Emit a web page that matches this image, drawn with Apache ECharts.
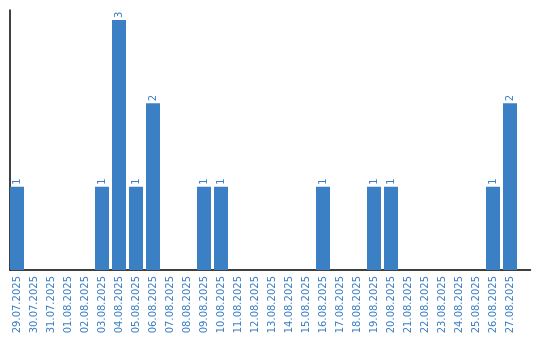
<!DOCTYPE html>
<html><head><meta charset="utf-8">
<script src="https://cdn.jsdelivr.net/npm/echarts@6/dist/echarts.min.js"></script>
<style>html,body{margin:0;padding:0;background:#fff}#c{width:540px;height:340px}</style>
</head><body><div id="c"></div>
<script>
const categories = ["29.07.2025","30.07.2025","31.07.2025","01.08.2025","02.08.2025","03.08.2025","04.08.2025","05.08.2025","06.08.2025","07.08.2025","08.08.2025","09.08.2025","10.08.2025","11.08.2025","12.08.2025","13.08.2025","14.08.2025","15.08.2025","16.08.2025","17.08.2025","18.08.2025","19.08.2025","20.08.2025","21.08.2025","22.08.2025","23.08.2025","24.08.2025","25.08.2025","26.08.2025","27.08.2025"];
const values = [1,0,0,0,0,1,3,1,2,0,0,1,1,0,0,0,0,0,1,0,0,1,1,0,0,0,0,0,1,2];
const blue = '#3b7fc4';
const chart = echarts.init(document.getElementById('c'), null, {renderer:'canvas'});
chart.setOption({
  animation:false,
  grid:[
    {left:10, right:9.5, top:10, bottom:70},
    {left:8.5, right:21.5, top:10, bottom:70}
  ],
  xAxis:[
    {type:'category', gridIndex:0, data:categories, axisLine:{lineStyle:{color:'#000', width:1.5}},
      axisTick:{show:false}, axisLabel:{show:false}, splitLine:{show:false}},
    {type:'category', gridIndex:1, data:categories, boundaryGap:true,
      axisLine:{show:false}, axisTick:{show:false},
      axisLabel:{rotate:90, color:blue, fontFamily:'DejaVu Sans', fontSize:10, margin:6, interval:0}}
  ],
  yAxis:[
    {type:'value', gridIndex:0, min:0, max:3.12, axisLine:{show:true, lineStyle:{color:'#000', width:1.5}},
      axisTick:{show:false}, axisLabel:{show:false}, splitLine:{show:false}},
    {type:'value', gridIndex:1, min:0, max:3.12, axisLine:{show:false},
      axisTick:{show:false}, axisLabel:{show:false}, splitLine:{show:false}}
  ],
  series:[{type:'bar', xAxisIndex:1, yAxisIndex:1, z:1,
    data:values.map(v=>v===0?{value:0,label:{show:false}}:v), barWidth:14, itemStyle:{color:blue},
    label:{show:true, position:'top', rotate:90, align:'left', verticalAlign:'middle', distance:2,
      color:blue, fontFamily:'DejaVu Sans', fontSize:10}}]
});
</script></body></html>
